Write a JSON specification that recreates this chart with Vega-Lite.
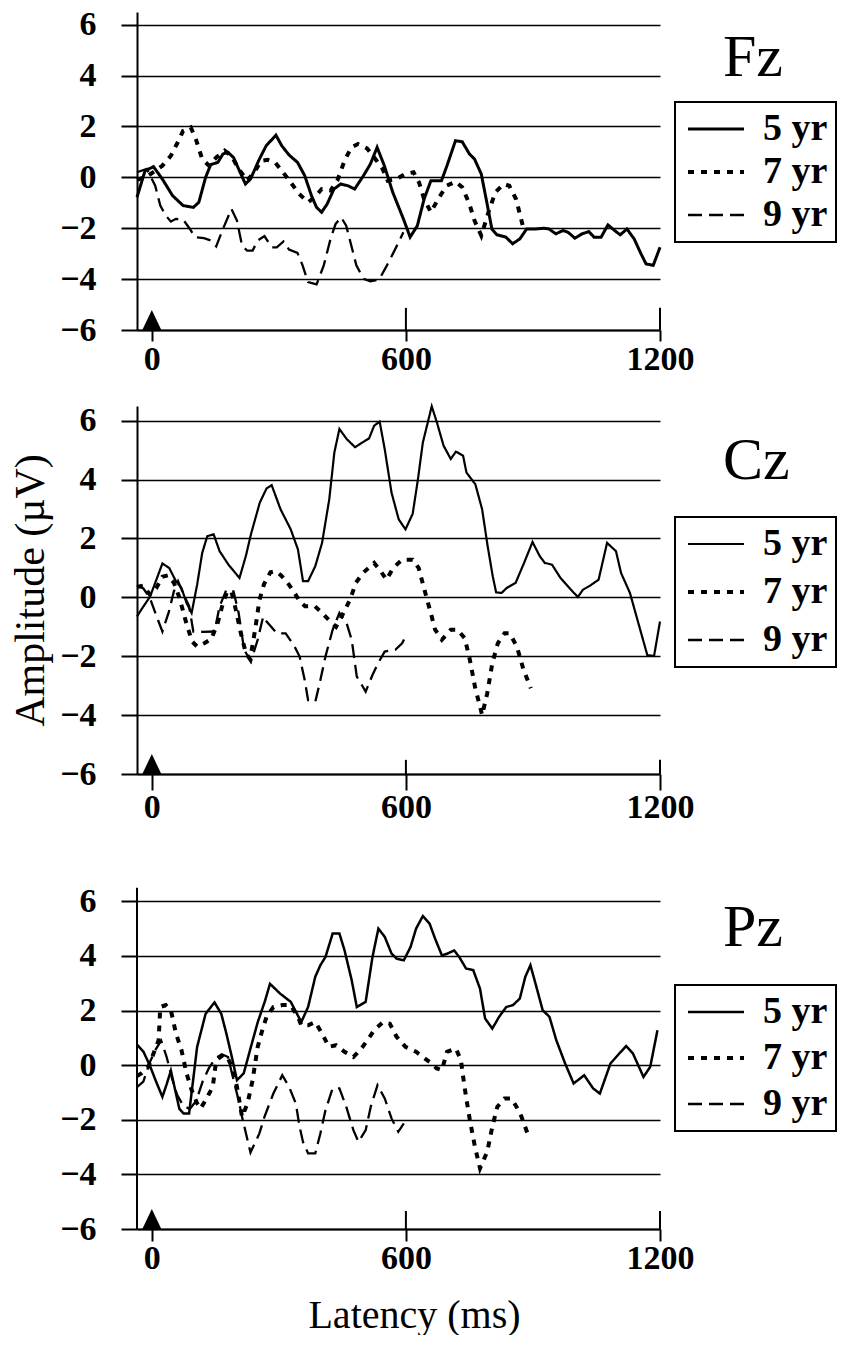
{
  "$schema": "https://vega.github.io/schema/vega-lite/v6.json",
  "background": "white",
  "padding": {"left": 9, "top": 7, "right": 0, "bottom": 0},
  "spacing": 76,
  "bounds": "flush",
  "resolve": {"scale": {"strokeDash": "independent", "strokeWidth": "independent"}, "legend": {"strokeDash": "independent", "strokeWidth": "independent"}},
  "datasets": {
    "ticks": [{"t": 600}, {"t": 1200}],
    "zero": [{"t": 0}],
    "yaxis": [{"t": -35}],
    "fz": [
      {"g":"5 yr","t":-35,"v":-0.78},{"g":"5 yr","t":-16,"v":0.26},{"g":"5 yr","t":4,"v":0.42},{"g":"5 yr","t":25,"v":-0.07},{"g":"5 yr","t":49,"v":-0.72},{"g":"5 yr","t":74,"v":-1.11},{"g":"5 yr","t":98,"v":-1.18},{"g":"5 yr","t":111,"v":-0.98},{"g":"5 yr","t":127,"v":0},{"g":"5 yr","t":139,"v":0.5},{"g":"5 yr","t":156,"v":0.59},{"g":"5 yr","t":168,"v":0.92},{"g":"5 yr","t":180,"v":0.98},{"g":"5 yr","t":193,"v":0.78},{"g":"5 yr","t":205,"v":0.33},{"g":"5 yr","t":221,"v":-0.26},{"g":"5 yr","t":233,"v":-0.07},{"g":"5 yr","t":254,"v":0.72},{"g":"5 yr","t":270,"v":1.24},{"g":"5 yr","t":293,"v":1.66},{"g":"5 yr","t":307,"v":1.24},{"g":"5 yr","t":324,"v":0.88},{"g":"5 yr","t":344,"v":0.59},{"g":"5 yr","t":361,"v":0.07},{"g":"5 yr","t":377,"v":-0.72},{"g":"5 yr","t":389,"v":-1.18},{"g":"5 yr","t":401,"v":-1.37},{"g":"5 yr","t":414,"v":-1.05},{"g":"5 yr","t":430,"v":-0.46},{"g":"5 yr","t":446,"v":-0.26},{"g":"5 yr","t":463,"v":-0.33},{"g":"5 yr","t":479,"v":-0.46},{"g":"5 yr","t":500,"v":0.07},{"g":"5 yr","t":516,"v":0.52},{"g":"5 yr","t":532,"v":1.18},{"g":"5 yr","t":549,"v":0.46},{"g":"5 yr","t":569,"v":-0.59},{"g":"5 yr","t":594,"v":-1.63},{"g":"5 yr","t":610,"v":-2.35},{"g":"5 yr","t":627,"v":-1.9},{"g":"5 yr","t":643,"v":-0.85},{"g":"5 yr","t":659,"v":-0.13},{"g":"5 yr","t":684,"v":-0.13},{"g":"5 yr","t":697,"v":0.46},{"g":"5 yr","t":717,"v":1.44},{"g":"5 yr","t":733,"v":1.4},{"g":"5 yr","t":750,"v":0.92},{"g":"5 yr","t":762,"v":0.72},{"g":"5 yr","t":778,"v":0.13},{"g":"5 yr","t":791,"v":-0.98},{"g":"5 yr","t":803,"v":-2.03},{"g":"5 yr","t":815,"v":-2.26},{"g":"5 yr","t":836,"v":-2.35},{"g":"5 yr","t":852,"v":-2.61},{"g":"5 yr","t":869,"v":-2.42},{"g":"5 yr","t":885,"v":-2.03},{"g":"5 yr","t":905,"v":-2.03},{"g":"5 yr","t":926,"v":-2.0},{"g":"5 yr","t":938,"v":-2.03},{"g":"5 yr","t":954,"v":-2.22},{"g":"5 yr","t":971,"v":-2.09},{"g":"5 yr","t":983,"v":-2.16},{"g":"5 yr","t":999,"v":-2.39},{"g":"5 yr","t":1016,"v":-2.22},{"g":"5 yr","t":1032,"v":-2.13},{"g":"5 yr","t":1044,"v":-2.35},{"g":"5 yr","t":1061,"v":-2.35},{"g":"5 yr","t":1077,"v":-1.87},{"g":"5 yr","t":1093,"v":-2.09},{"g":"5 yr","t":1106,"v":-2.26},{"g":"5 yr","t":1122,"v":-2.03},{"g":"5 yr","t":1139,"v":-2.42},{"g":"5 yr","t":1155,"v":-3.0},{"g":"5 yr","t":1167,"v":-3.4},{"g":"5 yr","t":1184,"v":-3.46},{"g":"5 yr","t":1200,"v":-2.75},
      {"g":"7 yr","t":-35,"v":-0.1},{"g":"7 yr","t":-8,"v":0.07},{"g":"7 yr","t":25,"v":0.46},{"g":"7 yr","t":45,"v":0.85},{"g":"7 yr","t":61,"v":1.37},{"g":"7 yr","t":74,"v":1.83},{"g":"7 yr","t":92,"v":1.96},{"g":"7 yr","t":104,"v":1.5},{"g":"7 yr","t":119,"v":0.72},{"g":"7 yr","t":135,"v":0.46},{"g":"7 yr","t":152,"v":0.78},{"g":"7 yr","t":172,"v":1.05},{"g":"7 yr","t":188,"v":0.85},{"g":"7 yr","t":205,"v":0.33},{"g":"7 yr","t":225,"v":-0.13},{"g":"7 yr","t":242,"v":0.2},{"g":"7 yr","t":258,"v":0.65},{"g":"7 yr","t":274,"v":0.69},{"g":"7 yr","t":291,"v":0.59},{"g":"7 yr","t":307,"v":0.26},{"g":"7 yr","t":328,"v":-0.2},{"g":"7 yr","t":348,"v":-0.65},{"g":"7 yr","t":369,"v":-0.98},{"g":"7 yr","t":385,"v":-0.78},{"g":"7 yr","t":401,"v":-0.46},{"g":"7 yr","t":422,"v":-0.52},{"g":"7 yr","t":438,"v":-0.13},{"g":"7 yr","t":455,"v":0.65},{"g":"7 yr","t":471,"v":1.18},{"g":"7 yr","t":487,"v":1.31},{"g":"7 yr","t":508,"v":1.14},{"g":"7 yr","t":528,"v":0.72},{"g":"7 yr","t":545,"v":0.33},{"g":"7 yr","t":557,"v":-0.13},{"g":"7 yr","t":577,"v":-0.07},{"g":"7 yr","t":598,"v":0.13},{"g":"7 yr","t":618,"v":0.2},{"g":"7 yr","t":631,"v":-0.2},{"g":"7 yr","t":643,"v":-0.85},{"g":"7 yr","t":659,"v":-1.37},{"g":"7 yr","t":676,"v":-0.85},{"g":"7 yr","t":696,"v":-0.33},{"g":"7 yr","t":717,"v":-0.17},{"g":"7 yr","t":733,"v":-0.39},{"g":"7 yr","t":750,"v":-1.05},{"g":"7 yr","t":762,"v":-1.7},{"g":"7 yr","t":778,"v":-2.29},{"g":"7 yr","t":795,"v":-1.37},{"g":"7 yr","t":811,"v":-0.59},{"g":"7 yr","t":831,"v":-0.26},{"g":"7 yr","t":844,"v":-0.33},{"g":"7 yr","t":860,"v":-0.85},{"g":"7 yr","t":876,"v":-1.9},
      {"g":"9 yr","t":-35,"v":0.2},{"g":"9 yr","t":-12,"v":0.33},{"g":"9 yr","t":8,"v":-0.33},{"g":"9 yr","t":20,"v":-1.11},{"g":"9 yr","t":33,"v":-1.5},{"g":"9 yr","t":45,"v":-1.74},{"g":"9 yr","t":57,"v":-1.63},{"g":"9 yr","t":74,"v":-1.66},{"g":"9 yr","t":90,"v":-2.03},{"g":"9 yr","t":102,"v":-2.35},{"g":"9 yr","t":123,"v":-2.39},{"g":"9 yr","t":139,"v":-2.48},{"g":"9 yr","t":152,"v":-2.71},{"g":"9 yr","t":168,"v":-2.03},{"g":"9 yr","t":188,"v":-1.24},{"g":"9 yr","t":201,"v":-1.7},{"g":"9 yr","t":213,"v":-2.68},{"g":"9 yr","t":225,"v":-2.88},{"g":"9 yr","t":238,"v":-2.88},{"g":"9 yr","t":250,"v":-2.48},{"g":"9 yr","t":266,"v":-2.31},{"g":"9 yr","t":283,"v":-2.75},{"g":"9 yr","t":295,"v":-2.75},{"g":"9 yr","t":311,"v":-2.52},{"g":"9 yr","t":324,"v":-2.84},{"g":"9 yr","t":344,"v":-2.97},{"g":"9 yr","t":356,"v":-3.46},{"g":"9 yr","t":369,"v":-4.12},{"g":"9 yr","t":389,"v":-4.21},{"g":"9 yr","t":406,"v":-3.46},{"g":"9 yr","t":422,"v":-2.42},{"g":"9 yr","t":434,"v":-1.83},{"g":"9 yr","t":447,"v":-1.57},{"g":"9 yr","t":459,"v":-1.9},{"g":"9 yr","t":471,"v":-2.68},{"g":"9 yr","t":483,"v":-3.46},{"g":"9 yr","t":500,"v":-3.99},{"g":"9 yr","t":516,"v":-4.09},{"g":"9 yr","t":537,"v":-4.01},{"g":"9 yr","t":553,"v":-3.53},{"g":"9 yr","t":573,"v":-2.88},{"g":"9 yr","t":594,"v":-2.16}
    ],
    "cz": [
      {"g":"5 yr","t":-35,"v":-0.65},{"g":"5 yr","t":-25,"v":-0.42},{"g":"5 yr","t":-4,"v":0.03},{"g":"5 yr","t":25,"v":1.15},{"g":"5 yr","t":41,"v":1.0},{"g":"5 yr","t":57,"v":0.55},{"g":"5 yr","t":70,"v":0.32},{"g":"5 yr","t":82,"v":-0.19},{"g":"5 yr","t":94,"v":-0.53},{"g":"5 yr","t":107,"v":0.43},{"g":"5 yr","t":119,"v":1.51},{"g":"5 yr","t":131,"v":2.08},{"g":"5 yr","t":146,"v":2.14},{"g":"5 yr","t":160,"v":1.57},{"g":"5 yr","t":181,"v":1.11},{"g":"5 yr","t":207,"v":0.66},{"g":"5 yr","t":222,"v":1.4},{"g":"5 yr","t":234,"v":2.14},{"g":"5 yr","t":255,"v":3.22},{"g":"5 yr","t":271,"v":3.7},{"g":"5 yr","t":283,"v":3.81},{"g":"5 yr","t":304,"v":2.99},{"g":"5 yr","t":328,"v":2.31},{"g":"5 yr","t":345,"v":1.63},{"g":"5 yr","t":357,"v":0.55},{"g":"5 yr","t":369,"v":0.55},{"g":"5 yr","t":386,"v":1.06},{"g":"5 yr","t":402,"v":1.85},{"g":"5 yr","t":419,"v":3.33},{"g":"5 yr","t":431,"v":4.92},{"g":"5 yr","t":443,"v":5.72},{"g":"5 yr","t":460,"v":5.38},{"g":"5 yr","t":480,"v":5.1},{"g":"5 yr","t":497,"v":5.26},{"g":"5 yr","t":513,"v":5.4},{"g":"5 yr","t":525,"v":5.83},{"g":"5 yr","t":538,"v":5.97},{"g":"5 yr","t":550,"v":5.03},{"g":"5 yr","t":566,"v":3.56},{"g":"5 yr","t":583,"v":2.65},{"g":"5 yr","t":599,"v":2.31},{"g":"5 yr","t":616,"v":2.84},{"g":"5 yr","t":628,"v":3.97},{"g":"5 yr","t":640,"v":5.26},{"g":"5 yr","t":661,"v":6.49},{"g":"5 yr","t":673,"v":5.95},{"g":"5 yr","t":689,"v":5.15},{"g":"5 yr","t":706,"v":4.7},{"g":"5 yr","t":718,"v":4.95},{"g":"5 yr","t":735,"v":4.81},{"g":"5 yr","t":743,"v":4.24},{"g":"5 yr","t":764,"v":3.84},{"g":"5 yr","t":780,"v":2.99},{"g":"5 yr","t":793,"v":1.74},{"g":"5 yr","t":805,"v":0.72},{"g":"5 yr","t":813,"v":0.17},{"g":"5 yr","t":826,"v":0.15},{"g":"5 yr","t":838,"v":0.32},{"g":"5 yr","t":859,"v":0.49},{"g":"5 yr","t":879,"v":1.17},{"g":"5 yr","t":899,"v":1.88},{"g":"5 yr","t":916,"v":1.4},{"g":"5 yr","t":928,"v":1.17},{"g":"5 yr","t":945,"v":1.11},{"g":"5 yr","t":965,"v":0.66},{"g":"5 yr","t":986,"v":0.32},{"g":"5 yr","t":1006,"v":0.01},{"g":"5 yr","t":1018,"v":0.26},{"g":"5 yr","t":1035,"v":0.4},{"g":"5 yr","t":1055,"v":0.6},{"g":"5 yr","t":1075,"v":1.85},{"g":"5 yr","t":1096,"v":1.57},{"g":"5 yr","t":1108,"v":0.83},{"g":"5 yr","t":1129,"v":0.15},{"g":"5 yr","t":1149,"v":-0.88},{"g":"5 yr","t":1170,"v":-1.96},{"g":"5 yr","t":1186,"v":-1.99},{"g":"5 yr","t":1200,"v":-0.82},
      {"g":"7 yr","t":-35,"v":0.35},{"g":"7 yr","t":-20,"v":0.4},{"g":"7 yr","t":-5,"v":0.1},{"g":"7 yr","t":10,"v":0.3},{"g":"7 yr","t":25,"v":0.7},{"g":"7 yr","t":38,"v":0.75},{"g":"7 yr","t":52,"v":0.5},{"g":"7 yr","t":65,"v":0.0},{"g":"7 yr","t":80,"v":-0.8},{"g":"7 yr","t":95,"v":-1.5},{"g":"7 yr","t":107,"v":-1.67},{"g":"7 yr","t":125,"v":-1.55},{"g":"7 yr","t":140,"v":-1.42},{"g":"7 yr","t":155,"v":-0.9},{"g":"7 yr","t":168,"v":-0.2},{"g":"7 yr","t":178,"v":0.2},{"g":"7 yr","t":188,"v":0.2},{"g":"7 yr","t":198,"v":-0.4},{"g":"7 yr","t":210,"v":-1.2},{"g":"7 yr","t":222,"v":-1.9},{"g":"7 yr","t":232,"v":-2.1},{"g":"7 yr","t":244,"v":-1.1},{"g":"7 yr","t":254,"v":-0.1},{"g":"7 yr","t":265,"v":0.45},{"g":"7 yr","t":280,"v":0.85},{"g":"7 yr","t":292,"v":0.89},{"g":"7 yr","t":305,"v":0.75},{"g":"7 yr","t":318,"v":0.55},{"g":"7 yr","t":335,"v":0.2},{"g":"7 yr","t":350,"v":-0.15},{"g":"7 yr","t":362,"v":-0.3},{"g":"7 yr","t":385,"v":-0.3},{"g":"7 yr","t":400,"v":-0.5},{"g":"7 yr","t":420,"v":-0.8},{"g":"7 yr","t":435,"v":-1.0},{"g":"7 yr","t":450,"v":-0.6},{"g":"7 yr","t":468,"v":-0.08},{"g":"7 yr","t":482,"v":0.5},{"g":"7 yr","t":500,"v":0.85},{"g":"7 yr","t":525,"v":1.17},{"g":"7 yr","t":540,"v":0.9},{"g":"7 yr","t":554,"v":0.6},{"g":"7 yr","t":570,"v":1.0},{"g":"7 yr","t":591,"v":1.28},{"g":"7 yr","t":616,"v":1.28},{"g":"7 yr","t":630,"v":1.0},{"g":"7 yr","t":648,"v":0.03},{"g":"7 yr","t":660,"v":-0.6},{"g":"7 yr","t":669,"v":-1.1},{"g":"7 yr","t":685,"v":-1.44},{"g":"7 yr","t":706,"v":-1.1},{"g":"7 yr","t":722,"v":-1.1},{"g":"7 yr","t":739,"v":-1.39},{"g":"7 yr","t":751,"v":-2.12},{"g":"7 yr","t":763,"v":-3.03},{"g":"7 yr","t":780,"v":-4.0},{"g":"7 yr","t":792,"v":-3.26},{"g":"7 yr","t":804,"v":-2.24},{"g":"7 yr","t":817,"v":-1.56},{"g":"7 yr","t":833,"v":-1.22},{"g":"7 yr","t":845,"v":-1.22},{"g":"7 yr","t":862,"v":-1.67},{"g":"7 yr","t":878,"v":-2.47},{"g":"7 yr","t":895,"v":-3.09},
      {"g":"9 yr","t":-35,"v":0.4},{"g":"9 yr","t":-20,"v":0.3},{"g":"9 yr","t":-5,"v":0.0},{"g":"9 yr","t":10,"v":-0.6},{"g":"9 yr","t":25,"v":-1.16},{"g":"9 yr","t":40,"v":-0.5},{"g":"9 yr","t":52,"v":0.2},{"g":"9 yr","t":62,"v":0.55},{"g":"9 yr","t":75,"v":0.1},{"g":"9 yr","t":88,"v":-0.3},{"g":"9 yr","t":95,"v":-0.9},{"g":"9 yr","t":98,"v":-1.16},{"g":"9 yr","t":120,"v":-1.17},{"g":"9 yr","t":148,"v":-1.16},{"g":"9 yr","t":160,"v":-0.31},{"g":"9 yr","t":176,"v":0.26},{"g":"9 yr","t":193,"v":0.2},{"g":"9 yr","t":205,"v":-0.53},{"g":"9 yr","t":218,"v":-1.78},{"g":"9 yr","t":234,"v":-2.18},{"g":"9 yr","t":250,"v":-1.44},{"g":"9 yr","t":263,"v":-0.65},{"g":"9 yr","t":271,"v":-0.82},{"g":"9 yr","t":295,"v":-1.22},{"g":"9 yr","t":316,"v":-1.22},{"g":"9 yr","t":337,"v":-1.67},{"g":"9 yr","t":349,"v":-2.01},{"g":"9 yr","t":361,"v":-2.81},{"g":"9 yr","t":369,"v":-3.49},{"g":"9 yr","t":386,"v":-3.55},{"g":"9 yr","t":398,"v":-2.81},{"g":"9 yr","t":410,"v":-2.01},{"g":"9 yr","t":427,"v":-1.1},{"g":"9 yr","t":443,"v":-0.53},{"g":"9 yr","t":460,"v":-0.88},{"g":"9 yr","t":472,"v":-1.44},{"g":"9 yr","t":484,"v":-2.69},{"g":"9 yr","t":505,"v":-3.2},{"g":"9 yr","t":521,"v":-2.64},{"g":"9 yr","t":534,"v":-2.24},{"g":"9 yr","t":550,"v":-1.84},{"g":"9 yr","t":575,"v":-1.78},{"g":"9 yr","t":591,"v":-1.56},{"g":"9 yr","t":599,"v":-1.33}
    ],
    "pz": [
      {"g":"5 yr","t":-35,"v":0.75},{"g":"5 yr","t":-20,"v":0.5},{"g":"5 yr","t":-5,"v":0.0},{"g":"5 yr","t":10,"v":-0.6},{"g":"5 yr","t":25,"v":-1.16},{"g":"5 yr","t":35,"v":-0.7},{"g":"5 yr","t":45,"v":-0.2},{"g":"5 yr","t":55,"v":-0.9},{"g":"5 yr","t":65,"v":-1.6},{"g":"5 yr","t":75,"v":-1.77},{"g":"5 yr","t":88,"v":-1.77},{"g":"5 yr","t":107,"v":0.67},{"g":"5 yr","t":127,"v":1.88},{"g":"5 yr","t":148,"v":2.3},{"g":"5 yr","t":164,"v":1.88},{"g":"5 yr","t":176,"v":1.16},{"g":"5 yr","t":189,"v":0.3},{"g":"5 yr","t":201,"v":-0.55},{"g":"5 yr","t":217,"v":-0.3},{"g":"5 yr","t":234,"v":0.67},{"g":"5 yr","t":250,"v":1.57},{"g":"5 yr","t":267,"v":2.34},{"g":"5 yr","t":279,"v":2.98},{"g":"5 yr","t":303,"v":2.62},{"g":"5 yr","t":328,"v":2.32},{"g":"5 yr","t":353,"v":1.58},{"g":"5 yr","t":369,"v":2.13},{"g":"5 yr","t":386,"v":3.24},{"g":"5 yr","t":398,"v":3.66},{"g":"5 yr","t":410,"v":3.96},{"g":"5 yr","t":427,"v":4.82},{"g":"5 yr","t":443,"v":4.82},{"g":"5 yr","t":455,"v":4.21},{"g":"5 yr","t":472,"v":3.11},{"g":"5 yr","t":484,"v":2.13},{"g":"5 yr","t":505,"v":2.32},{"g":"5 yr","t":521,"v":3.96},{"g":"5 yr","t":535,"v":5.0},{"g":"5 yr","t":550,"v":4.7},{"g":"5 yr","t":566,"v":4.09},{"g":"5 yr","t":578,"v":3.9},{"g":"5 yr","t":595,"v":3.84},{"g":"5 yr","t":611,"v":4.33},{"g":"5 yr","t":624,"v":5.0},{"g":"5 yr","t":640,"v":5.46},{"g":"5 yr","t":656,"v":5.18},{"g":"5 yr","t":669,"v":4.63},{"g":"5 yr","t":685,"v":4.02},{"g":"5 yr","t":697,"v":4.08},{"g":"5 yr","t":714,"v":4.2},{"g":"5 yr","t":726,"v":3.96},{"g":"5 yr","t":742,"v":3.54},{"g":"5 yr","t":759,"v":3.48},{"g":"5 yr","t":775,"v":2.8},{"g":"5 yr","t":787,"v":1.71},{"g":"5 yr","t":804,"v":1.34},{"g":"5 yr","t":820,"v":1.77},{"g":"5 yr","t":837,"v":2.13},{"g":"5 yr","t":853,"v":2.2},{"g":"5 yr","t":869,"v":2.44},{"g":"5 yr","t":882,"v":3.24},{"g":"5 yr","t":894,"v":3.66},{"g":"5 yr","t":906,"v":2.99},{"g":"5 yr","t":923,"v":2.01},{"g":"5 yr","t":939,"v":1.77},{"g":"5 yr","t":955,"v":0.92},{"g":"5 yr","t":976,"v":0.06},{"g":"5 yr","t":996,"v":-0.67},{"g":"5 yr","t":1021,"v":-0.37},{"g":"5 yr","t":1042,"v":-0.85},{"g":"5 yr","t":1058,"v":-1.04},{"g":"5 yr","t":1083,"v":0.06},{"g":"5 yr","t":1104,"v":0.43},{"g":"5 yr","t":1120,"v":0.7},{"g":"5 yr","t":1136,"v":0.43},{"g":"5 yr","t":1161,"v":-0.43},{"g":"5 yr","t":1177,"v":-0.06},{"g":"5 yr","t":1194,"v":1.28},
      {"g":"7 yr","t":-35,"v":-0.4},{"g":"7 yr","t":-25,"v":-0.3},{"g":"7 yr","t":-8,"v":-0.06},{"g":"7 yr","t":16,"v":0.91},{"g":"7 yr","t":20,"v":2.13},{"g":"7 yr","t":33,"v":2.2},{"g":"7 yr","t":45,"v":2.01},{"g":"7 yr","t":57,"v":1.16},{"g":"7 yr","t":70,"v":0.55},{"g":"7 yr","t":82,"v":-0.3},{"g":"7 yr","t":94,"v":-0.91},{"g":"7 yr","t":107,"v":-1.4},{"g":"7 yr","t":115,"v":-1.59},{"g":"7 yr","t":127,"v":-1.28},{"g":"7 yr","t":144,"v":-0.79},{"g":"7 yr","t":152,"v":0.18},{"g":"7 yr","t":168,"v":0.37},{"g":"7 yr","t":180,"v":0.24},{"g":"7 yr","t":189,"v":-0.06},{"g":"7 yr","t":201,"v":-0.79},{"g":"7 yr","t":213,"v":-1.89},{"g":"7 yr","t":226,"v":-1.4},{"g":"7 yr","t":238,"v":-0.55},{"g":"7 yr","t":250,"v":0.67},{"g":"7 yr","t":263,"v":1.4},{"g":"7 yr","t":271,"v":1.77},{"g":"7 yr","t":287,"v":2.13},{"g":"7 yr","t":308,"v":2.2},{"g":"7 yr","t":328,"v":2.2},{"g":"7 yr","t":345,"v":1.77},{"g":"7 yr","t":353,"v":1.46},{"g":"7 yr","t":369,"v":1.46},{"g":"7 yr","t":386,"v":1.58},{"g":"7 yr","t":402,"v":1.16},{"g":"7 yr","t":418,"v":0.67},{"g":"7 yr","t":435,"v":0.73},{"g":"7 yr","t":455,"v":0.49},{"g":"7 yr","t":476,"v":0.3},{"g":"7 yr","t":492,"v":0.55},{"g":"7 yr","t":509,"v":0.91},{"g":"7 yr","t":525,"v":1.28},{"g":"7 yr","t":546,"v":1.58},{"g":"7 yr","t":562,"v":1.52},{"g":"7 yr","t":578,"v":1.04},{"g":"7 yr","t":599,"v":0.67},{"g":"7 yr","t":624,"v":0.49},{"g":"7 yr","t":640,"v":0.3},{"g":"7 yr","t":656,"v":0.12},{"g":"7 yr","t":673,"v":-0.12},{"g":"7 yr","t":685,"v":-0.18},{"g":"7 yr","t":697,"v":0.49},{"g":"7 yr","t":718,"v":0.61},{"g":"7 yr","t":730,"v":0.18},{"g":"7 yr","t":734,"v":-0.3},{"g":"7 yr","t":742,"v":-1.16},{"g":"7 yr","t":751,"v":-2.01},{"g":"7 yr","t":763,"v":-2.99},{"g":"7 yr","t":775,"v":-3.78},{"g":"7 yr","t":792,"v":-3.17},{"g":"7 yr","t":804,"v":-2.26},{"g":"7 yr","t":816,"v":-1.52},{"g":"7 yr","t":833,"v":-1.22},{"g":"7 yr","t":849,"v":-1.22},{"g":"7 yr","t":861,"v":-1.52},{"g":"7 yr","t":873,"v":-1.89},{"g":"7 yr","t":890,"v":-2.62},
      {"g":"9 yr","t":-35,"v":-0.8},{"g":"9 yr","t":-20,"v":-0.6},{"g":"9 yr","t":-5,"v":0.1},{"g":"9 yr","t":10,"v":0.6},{"g":"9 yr","t":22,"v":0.9},{"g":"9 yr","t":35,"v":0.3},{"g":"9 yr","t":48,"v":-0.5},{"g":"9 yr","t":60,"v":-1.1},{"g":"9 yr","t":75,"v":-1.5},{"g":"9 yr","t":90,"v":-1.6},{"g":"9 yr","t":105,"v":-1.3},{"g":"9 yr","t":120,"v":-0.6},{"g":"9 yr","t":135,"v":-0.1},{"g":"9 yr","t":150,"v":0.25},{"g":"9 yr","t":165,"v":0.4},{"g":"9 yr","t":180,"v":0.3},{"g":"9 yr","t":197,"v":-0.8},{"g":"9 yr","t":205,"v":-1.28},{"g":"9 yr","t":213,"v":-1.89},{"g":"9 yr","t":233,"v":-3.2},{"g":"9 yr","t":254,"v":-2.5},{"g":"9 yr","t":266,"v":-1.89},{"g":"9 yr","t":287,"v":-1.04},{"g":"9 yr","t":308,"v":-0.37},{"g":"9 yr","t":324,"v":-0.79},{"g":"9 yr","t":340,"v":-1.4},{"g":"9 yr","t":349,"v":-2.26},{"g":"9 yr","t":357,"v":-2.81},{"g":"9 yr","t":369,"v":-3.23},{"g":"9 yr","t":386,"v":-3.23},{"g":"9 yr","t":398,"v":-2.5},{"g":"9 yr","t":410,"v":-1.65},{"g":"9 yr","t":427,"v":-0.85},{"g":"9 yr","t":443,"v":-0.85},{"g":"9 yr","t":459,"v":-1.52},{"g":"9 yr","t":476,"v":-2.38},{"g":"9 yr","t":488,"v":-2.81},{"g":"9 yr","t":505,"v":-2.38},{"g":"9 yr","t":517,"v":-1.52},{"g":"9 yr","t":533,"v":-0.73},{"g":"9 yr","t":550,"v":-1.22},{"g":"9 yr","t":566,"v":-1.95},{"g":"9 yr","t":582,"v":-2.44},{"g":"9 yr","t":595,"v":-2.13}
    ]
  },
  "vconcat": [
    {
      "width": 523, "height": 318,
      "title": {"text": "Fz", "anchor": "end", "frame": "group", "align": "left", "baseline": "alphabetic", "dx": 63, "dy": 128, "offset": 0, "fontSize": 60, "font": "Liberation Serif", "fontWeight": "normal", "color": "black"},
      "layer": [
        {
          "data": {"name": "fz"},
          "mark": {"type": "line", "color": "black"},
          "encoding": {
            "x": {"field": "t", "type": "quantitative", "scale": {"domain": [-35, 1200], "nice": false, "zero": false},
                  "axis": {"values": [0, 600, 1200], "format": "d", "title": null, "grid": false, "tickSize": 11, "labelPadding": 1, "labelFlush": false}},
            "y": {"field": "v", "type": "quantitative", "scale": {"domain": [-6, 6.5], "nice": false, "zero": false},
                  "axis": {"values": [-6, -4, -2, 0, 2, 4, 6], "format": "d", "title": null, "grid": true, "tickSize": 16, "labelPadding": 25}},
            "strokeDash": {"field": "g", "type": "nominal", "title": null, "scale": {"type": "ordinal", "domain": ["5 yr", "7 yr", "9 yr"], "range": [[1, 0], [6, 7], [14, 7]]},
                  "legend": {"orient": "none", "legendX": 538, "legendY": 90, "rowPadding": 5}},
            "strokeWidth": {"field": "g", "type": "nominal", "title": null, "scale": {"type": "ordinal", "domain": ["5 yr", "7 yr", "9 yr"], "range": [3, 4, 2.3]},
                  "legend": {"orient": "none", "legendX": 538, "legendY": 90, "rowPadding": 5}}
          }
        },
        {
          "data": {"name": "ticks"},
          "mark": {"type": "rule", "color": "black", "strokeWidth": 2},
          "encoding": {"x": {"field": "t", "type": "quantitative"}, "y": {"datum": -6, "type": "quantitative"}, "y2": {"datum": -5.13}}
        },
        {
          "data": {"name": "zero"},
          "mark": {"type": "point", "shape": "M0,-2.1L-1,0L1,0Z", "filled": true, "color": "black", "opacity": 1, "size": 361},
          "encoding": {"x": {"field": "t", "type": "quantitative"}, "y": {"datum": -6, "type": "quantitative"}}
        }
      ]
    },
    {
      "width": 523, "height": 368,
      "title": {"text": "Cz", "anchor": "end", "frame": "group", "align": "left", "baseline": "alphabetic", "dx": 63, "dy": 137.3, "offset": 0, "fontSize": 60, "font": "Liberation Serif", "fontWeight": "normal", "color": "black"},
      "layer": [
        {
          "data": {"name": "cz"},
          "mark": {"type": "line", "color": "black"},
          "encoding": {
            "x": {"field": "t", "type": "quantitative", "scale": {"domain": [-35, 1200], "nice": false, "zero": false},
                  "axis": {"values": [0, 600, 1200], "format": "d", "title": null, "grid": false, "tickSize": 16, "labelPadding": 0, "labelFlush": false}},
            "y": {"field": "v", "type": "quantitative", "scale": {"domain": [-6, 6.5], "nice": false, "zero": false},
                  "axis": {"values": [-6, -4, -2, 0, 2, 4, 6], "format": "d", "title": "Amplitude (µV)", "titleFontSize": 42, "titleX": -94, "titleBaseline": "alphabetic", "titleAngle": -90, "grid": true, "tickSize": 16, "labelPadding": 25}},
            "strokeDash": {"field": "g", "type": "nominal", "title": null, "scale": {"type": "ordinal", "domain": ["5 yr", "7 yr", "9 yr"], "range": [[1, 0], [6, 7], [14, 7]]},
                  "legend": {"orient": "none", "legendX": 538, "legendY": 111, "rowPadding": 10}},
            "strokeWidth": {"field": "g", "type": "nominal", "title": null, "scale": {"type": "ordinal", "domain": ["5 yr", "7 yr", "9 yr"], "range": [2.2, 4, 2.3]},
                  "legend": {"orient": "none", "legendX": 538, "legendY": 111, "rowPadding": 10}}
          }
        },
        {
          "data": {"name": "ticks"},
          "mark": {"type": "rule", "color": "black", "strokeWidth": 2},
          "encoding": {"x": {"field": "t", "type": "quantitative"}, "y": {"datum": -6, "type": "quantitative"}, "y2": {"datum": -5.52}}
        },
        {
          "data": {"name": "zero"},
          "mark": {"type": "point", "shape": "M0,-2.1L-1,0L1,0Z", "filled": true, "color": "black", "opacity": 1, "size": 361},
          "encoding": {"x": {"field": "t", "type": "quantitative"}, "y": {"datum": -6, "type": "quantitative"}}
        }
      ]
    },
    {
      "width": 523, "height": 379,
      "title": {"text": "Pz", "anchor": "end", "frame": "group", "align": "left", "baseline": "alphabetic", "dx": 63, "dy": 156.4, "offset": 0, "fontSize": 60, "font": "Liberation Serif", "fontWeight": "normal", "color": "black"},
      "layer": [
        {
          "data": {"name": "pz"},
          "mark": {"type": "line", "color": "black"},
          "encoding": {
            "x": {"field": "t", "type": "quantitative", "scale": {"domain": [-35, 1200], "nice": false, "zero": false},
                  "axis": {"values": [0, 600, 1200], "format": "d", "title": "Latency (ms)", "titleFontSize": 40, "titleX": 277, "titleY": 98, "titleBaseline": "alphabetic", "titleAlign": "center", "grid": false, "tickSize": 12, "labelPadding": 0, "labelFlush": false}},
            "y": {"field": "v", "type": "quantitative", "scale": {"domain": [-6, 7.88], "nice": false, "zero": false},
                  "axis": {"values": [-6, -4, -2, 0, 2, 4, 6], "format": "d", "title": null, "domain": false, "grid": true, "tickSize": 16, "labelPadding": 25}},
            "strokeDash": {"field": "g", "type": "nominal", "title": null, "scale": {"type": "ordinal", "domain": ["5 yr", "7 yr", "9 yr"], "range": [[1, 0], [6, 7], [14, 7]]},
                  "legend": {"orient": "none", "legendX": 538, "legendY": 135, "rowPadding": 8}},
            "strokeWidth": {"field": "g", "type": "nominal", "title": null, "scale": {"type": "ordinal", "domain": ["5 yr", "7 yr", "9 yr"], "range": [2.5, 4, 2.3]},
                  "legend": {"orient": "none", "legendX": 538, "legendY": 135, "rowPadding": 8}}
          }
        },
        {
          "data": {"name": "yaxis"},
          "mark": {"type": "rule", "color": "black", "strokeWidth": 2},
          "encoding": {"x": {"field": "t", "type": "quantitative"}, "y": {"datum": -6, "type": "quantitative"}, "y2": {"datum": 6.5}}
        },
        {
          "data": {"name": "ticks"},
          "mark": {"type": "rule", "color": "black", "strokeWidth": 2},
          "encoding": {"x": {"field": "t", "type": "quantitative"}, "y": {"datum": -6, "type": "quantitative"}, "y2": {"datum": -5.34}}
        },
        {
          "data": {"name": "zero"},
          "mark": {"type": "point", "shape": "M0,-2.1L-1,0L1,0Z", "filled": true, "color": "black", "opacity": 1, "size": 361},
          "encoding": {"x": {"field": "t", "type": "quantitative"}, "y": {"datum": -6, "type": "quantitative"}}
        }
      ]
    }
  ],
  "config": {
    "view": {"stroke": null},
    "axis": {"domainColor": "black", "domainWidth": 2, "tickColor": "black", "tickWidth": 2, "labelColor": "black", "labelFont": "Liberation Serif", "labelFontWeight": "bold", "labelFontSize": 34, "titleFont": "Liberation Serif", "titleFontWeight": "normal", "titleColor": "black", "gridColor": "black", "gridOpacity": 1, "gridWidth": 1.5},
    "legend": {"strokeColor": "black", "strokeWidth": 2, "fillColor": "white", "padding": 8, "labelFont": "Liberation Serif", "labelFontWeight": "bold", "labelFontSize": 38, "labelColor": "black", "symbolType": "M-1,0L3,0", "symbolSize": 784, "labelOffset": 42, "symbolStrokeColor": "black"}
  }
}
